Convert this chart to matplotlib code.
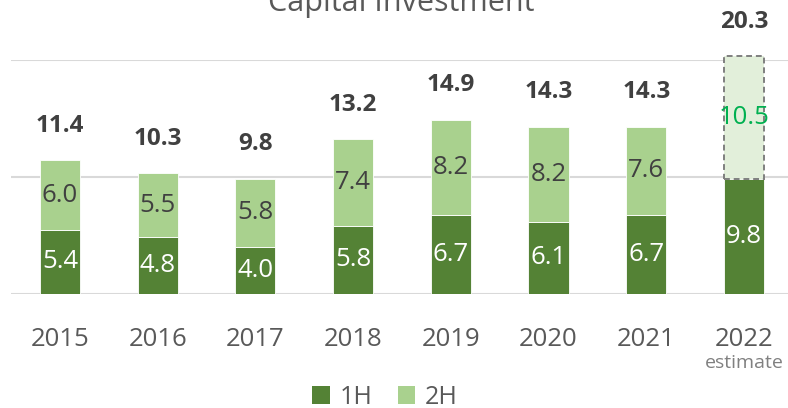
import numpy as np
import matplotlib
matplotlib.use("Agg")
import matplotlib.pyplot as plt
from matplotlib.patches import Patch

plt.rcParams["font.family"] = ["Open Sans", "DejaVu Sans"]

years = ["2015", "2016", "2017", "2018", "2019", "2020", "2021", "2022"]
h1 = [5.4, 4.8, 4.0, 5.8, 6.7, 6.1, 6.7, 9.8]
h2 = [6.0, 5.5, 5.8, 7.4, 8.2, 8.2, 7.6, 10.5]
totals = [11.4, 10.3, 9.8, 13.2, 14.9, 14.3, 14.3, 20.3]
estimate_year = "2022"

DARK = "#548235"
LIGHT = "#A9D18E"
PALE = "#E2EFDA"
TXT = "#404040"
TICK = "#595959"
GRID = "#D9D9D9"

fig = plt.figure(figsize=(7.88, 4.08), dpi=100)
ax = fig.add_axes([11 / 788, 114.5 / 408, 777 / 788, 233.5 / 408])

x = np.arange(len(years))
w = 0.41
est = years.index(estimate_year)

for yv in (0, 10, 20):
    ax.axhline(yv, color=GRID, lw=1.5, zorder=0)

ax.bar(x, h1, w, color=DARK, edgecolor="white", linewidth=0.6, zorder=2)
h2_colors = [PALE if i == est else LIGHT for i in x]
bars2 = ax.bar(x, h2, w, bottom=h1, color=h2_colors, edgecolor="white",
               linewidth=0.6, zorder=2, clip_on=False)
bars2[est].set_edgecolor("#7F7F7F")
bars2[est].set_linestyle((0, (3, 2)))
bars2[est].set_linewidth(1.4)

for i in x:
    ax.text(i, h1[i] / 2, f"{h1[i]:.1f}", ha="center", va="center",
            color="white", fontsize=18.5, zorder=3)
    c2 = "#00B050" if i == est else TXT
    ax.text(i, h1[i] + h2[i] / 2, f"{h2[i]:.1f}", ha="center", va="center",
            color=c2, fontsize=18.5, zorder=3)
    ax.annotate(f"{totals[i]:.1f}", (i, totals[i]), xytext=(0, 25),
                textcoords="offset points", ha="center", va="center",
                color=TXT, fontsize=17.5, fontweight="bold", annotation_clip=False)

ax.annotate("estimate", (est, 0), xytext=(0, -50), textcoords="offset points",
            ha="center", va="center", color="#808080", fontsize=14,
            annotation_clip=False)

ax.set_xlim(-0.5015, 7.451)
ax.set_ylim(0, 20)
ax.set_yticks([])
ax.set_xticks(x)
ax.set_xticklabels(years, fontsize=18.5, color=TICK)
ax.tick_params(axis="x", length=0, pad=24)
for s in ax.spines.values():
    s.set_visible(False)

fig.text(401 / 788, 1 - 11 / 408, "Capital Investment", ha="center",
         va="baseline", fontsize=22, color=TICK)

handles = [Patch(facecolor=DARK, label="1H"), Patch(facecolor=LIGHT, label="2H")]
fig.legend(handles=handles, loc="center", bbox_to_anchor=(385 / 788, 1 - 397 / 408),
           ncol=2, frameon=False, fontsize=18, handlelength=0.7, handleheight=0.7,
           handletextpad=0.4, columnspacing=1.0, labelcolor=TICK)

fig.savefig("out.png", dpi=100)
